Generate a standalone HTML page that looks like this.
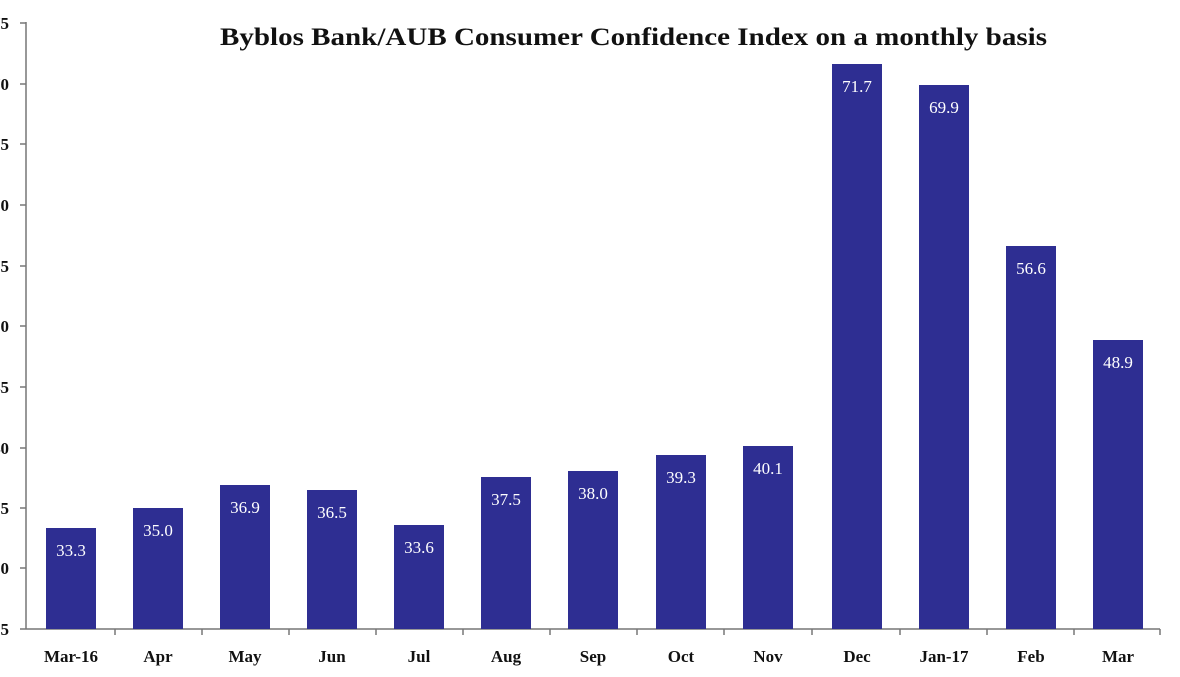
<!DOCTYPE html>
<html><head><meta charset="utf-8"><style>
html,body{margin:0;padding:0;background:#fff;}
svg{display:block;}
text{font-family:"Liberation Serif",serif;}
</style></head><body>
<svg width="1180" height="677" viewBox="0 0 1180 677" xmlns="http://www.w3.org/2000/svg">
<text x="220" y="45" font-size="25" font-weight="bold" fill="#111" textLength="827" lengthAdjust="spacingAndGlyphs">Byblos Bank/AUB Consumer Confidence Index on a monthly basis</text>
<g stroke="#777" stroke-width="1.5">
<line x1="26" y1="22" x2="26" y2="629"/>
<line x1="26" y1="629" x2="1160" y2="629"/>
</g>
<g stroke="#777" stroke-width="1.5">
<line x1="20" y1="23" x2="26" y2="23"/>
<line x1="20" y1="84" x2="26" y2="84"/>
<line x1="20" y1="144" x2="26" y2="144"/>
<line x1="20" y1="205" x2="26" y2="205"/>
<line x1="20" y1="266" x2="26" y2="266"/>
<line x1="20" y1="326" x2="26" y2="326"/>
<line x1="20" y1="387" x2="26" y2="387"/>
<line x1="20" y1="448" x2="26" y2="448"/>
<line x1="20" y1="508" x2="26" y2="508"/>
<line x1="20" y1="568" x2="26" y2="568"/>
<line x1="20" y1="629" x2="26" y2="629"/>
<line x1="115" y1="629" x2="115" y2="635"/>
<line x1="202" y1="629" x2="202" y2="635"/>
<line x1="289" y1="629" x2="289" y2="635"/>
<line x1="376" y1="629" x2="376" y2="635"/>
<line x1="463" y1="629" x2="463" y2="635"/>
<line x1="550" y1="629" x2="550" y2="635"/>
<line x1="637" y1="629" x2="637" y2="635"/>
<line x1="724" y1="629" x2="724" y2="635"/>
<line x1="812" y1="629" x2="812" y2="635"/>
<line x1="900" y1="629" x2="900" y2="635"/>
<line x1="987" y1="629" x2="987" y2="635"/>
<line x1="1074" y1="629" x2="1074" y2="635"/>
<line x1="1160" y1="629" x2="1160" y2="635"/>
</g>
<g font-size="17" font-weight="bold" fill="#111" text-anchor="end">
<text x="9" y="29">75</text><text x="9" y="90">70</text><text x="9" y="150">65</text><text x="9" y="211">60</text><text x="9" y="272">55</text><text x="9" y="332">50</text><text x="9" y="393">45</text><text x="9" y="454">40</text><text x="9" y="514">35</text><text x="9" y="574">30</text><text x="9" y="635">25</text>
</g>
<g fill="#2e2e92">
<rect x="46" y="528" width="50" height="101"/>
<rect x="133" y="508" width="50" height="121"/>
<rect x="220" y="485" width="50" height="144"/>
<rect x="307" y="490" width="50" height="139"/>
<rect x="394" y="525" width="50" height="104"/>
<rect x="481" y="477" width="50" height="152"/>
<rect x="568" y="471" width="50" height="158"/>
<rect x="656" y="455" width="50" height="174"/>
<rect x="743" y="446" width="50" height="183"/>
<rect x="832" y="64" width="50" height="565"/>
<rect x="919" y="85" width="50" height="544"/>
<rect x="1006" y="246" width="50" height="383"/>
<rect x="1093" y="340" width="50" height="289"/>
</g>
<g font-size="17" fill="#fff" text-anchor="middle">
<text x="71" y="556">33.3</text>
<text x="158" y="536">35.0</text>
<text x="245" y="513">36.9</text>
<text x="332" y="518">36.5</text>
<text x="419" y="553">33.6</text>
<text x="506" y="505">37.5</text>
<text x="593" y="499">38.0</text>
<text x="681" y="483">39.3</text>
<text x="768" y="474">40.1</text>
<text x="857" y="92">71.7</text>
<text x="944" y="113">69.9</text>
<text x="1031" y="274">56.6</text>
<text x="1118" y="368">48.9</text>
</g>
<g font-size="17" font-weight="bold" fill="#111" text-anchor="middle">
<text x="71" y="662">Mar-16</text>
<text x="158" y="662">Apr</text>
<text x="245" y="662">May</text>
<text x="332" y="662">Jun</text>
<text x="419" y="662">Jul</text>
<text x="506" y="662">Aug</text>
<text x="593" y="662">Sep</text>
<text x="681" y="662">Oct</text>
<text x="768" y="662">Nov</text>
<text x="857" y="662">Dec</text>
<text x="944" y="662">Jan-17</text>
<text x="1031" y="662">Feb</text>
<text x="1118" y="662">Mar</text>
</g>
</svg>
</body></html>
